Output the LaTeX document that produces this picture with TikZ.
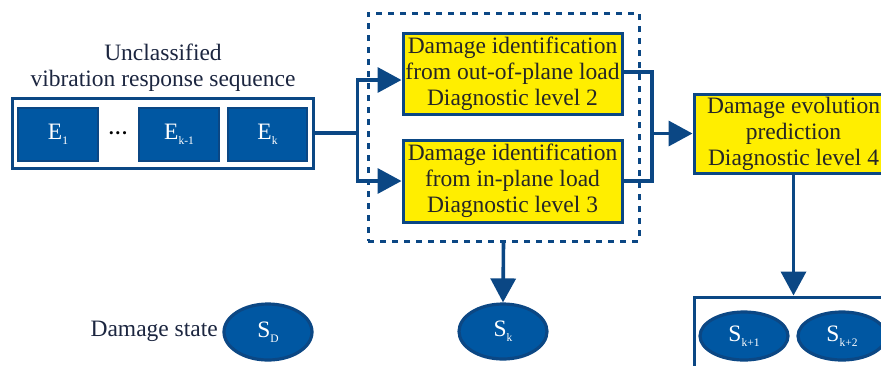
\documentclass[tikz,border=0pt]{standalone}
\usepackage{fontspec}
\setmainfont{Liberation Serif}
\usetikzlibrary{shapes.geometric,arrows.meta}
\definecolor{dblue}{HTML}{0B4784}
\definecolor{fblue}{HTML}{0057A2}
\definecolor{ylw}{HTML}{FFEE00}
\definecolor{txt}{HTML}{1C2640}
\newcommand\subs[1]{\raisebox{-0.45ex}{\fontsize{11.5}{11.5}\selectfont #1}}
\begin{document}
\begin{tikzpicture}[x=1pt,y=-1pt,
  every node/.style={font=\fontsize{23.5}{26}\selectfont},
  ebox/.style={draw=dblue,line width=2.5pt,fill=fblue,text=white,minimum width=80pt,minimum height=53pt,inner sep=0pt},
  ybox/.style={draw=dblue,line width=3pt,fill=ylw,text=black!85,minimum width=219pt,minimum height=81pt,inner sep=0pt,align=center},
  ell/.style={ellipse,draw=dblue,line width=3.2pt,fill=fblue,text=white,minimum width=88pt,minimum height=55pt,inner sep=0pt},
  conn/.style={draw=dblue,line width=3.6pt},
  arr/.style={conn,-{Triangle[length=24pt,width=25pt]}},
  lbl/.style={text=txt,align=center,inner sep=0pt}
]
\useasboundingbox (0,0) rectangle (881,365);
% dashed group
\node[draw=dblue,line width=3pt,dash pattern=on 6pt off 6pt,minimum width=271pt,minimum height=228pt,inner sep=0pt] (grp) at (503.5,127) {};
% sequence
\node[lbl] (title) at (163,68) {Unclassified\\vibration response sequence};
\node[draw=dblue,line width=3pt,fill=white,minimum width=301pt,minimum height=70pt,inner sep=0pt] (seq) at (162.5,133) {};
\node[ebox] (e1) at (58,134.5) {E\subs{1}};
\node[text=black,inner sep=0pt] (dots) at (118,135) {\fontsize{13}{13}\selectfont\textbullet\hspace{2pt}\textbullet\hspace{2pt}\textbullet};
\node[ebox] (ekm) at (179,134.5) {E\subs{k-1}};
\node[ebox,minimum width=79pt] (ek) at (267.5,134.5) {E\subs{k}};
% identification boxes
\node[ybox] (id2) at (512.5,73.5) {Damage identification\\from out-of-plane load\\Diagnostic level 2};
\node[ybox,minimum height=82pt] (id3) at (512.5,181) {Damage identification\\from in-plane load\\Diagnostic level 3};
\node[ybox,minimum width=199pt,minimum height=79pt] (id4) at (793.5,133.5) {Damage evolution\\prediction\\Diagnostic level 4};
% split
\draw[conn] (seq.east) -- ++(43,0) coordinate (sp);
\draw[arr] (sp) |- ([yshift=-6.5pt]id2.west);
\draw[arr] (sp) |- (id3.west);
% merge
\coordinate (mg) at (652,133.5);
\draw[conn] ([yshift=1.5pt]id2.east) -| (mg);
\draw[conn] (id3.east) -| (mg);
\draw[arr] (mg) -- (id4.west);
% states
\node[ell] (sk) at (503,331.5) {S\subs{k}};
\draw[arr] (grp.south) -- (sk.north);
\node[ell,minimum height=56pt] (sd) at (268,332) {S\subs{D}};
\node[lbl,anchor=east] (dsl) at (218,331) {Damage state};
\node[draw=dblue,line width=3pt,minimum width=206pt,minimum height=110pt,inner sep=0pt] (fut) at (797,352) {};
\draw[arr] (id4.south) -- (id4.south |- fut.north);
\node[ell,minimum height=48pt] (sk1) at (744,336) {S\subs{k+1}};
\node[ell,minimum height=48pt] (sk2) at (842,336) {S\subs{k+2}};
\end{tikzpicture}
\end{document}
